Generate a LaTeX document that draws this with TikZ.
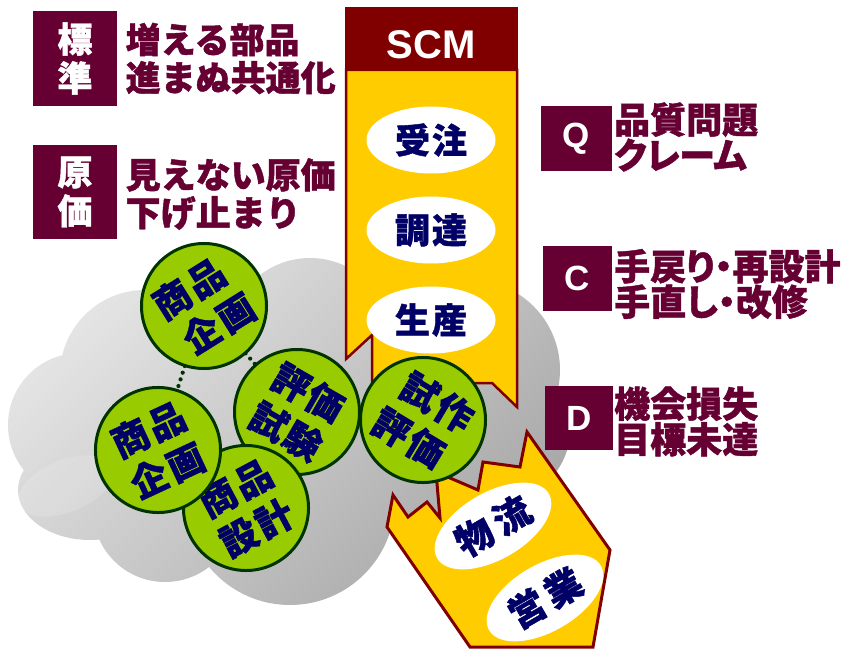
\documentclass[tikz,border=0pt]{standalone}
\usepackage{fontspec}
\usetikzlibrary{shapes.geometric}
\newfontfamily\jp{Noto Sans CJK JP}[BoldFeatures={FakeBold=1.2}]
\newfontfamily\jpp{Noto Sans CJK JP}[RawFeature=+palt,BoldFeatures={FakeBold=1.2}]
\newfontfamily\lat{Liberation Sans}
\definecolor{boxc}{HTML}{660033}
\definecolor{scmred}{HTML}{800000}
\definecolor{ylw}{HTML}{FFCC00}
\definecolor{grn}{HTML}{99CC00}
\definecolor{dgrn}{HTML}{003300}
\definecolor{navy}{HTML}{000066}
\definecolor{cloudA}{HTML}{E4E4E4}
\definecolor{cloudB}{HTML}{A8A8A8}
\newcommand\pair[3]{\makebox[#1]{#2}\makebox[#1]{#3}}
\begin{document}
\begin{tikzpicture}[x=1pt,y=-1pt,
  lbox/.style={fill=boxc,text=white,inner sep=0pt,align=center},
  ljp/.style={font=\jp\bfseries\fontsize{35}{39}\selectfont},
  lat/.style={font=\lat\bfseries\fontsize{35}{35}\selectfont},
  ltxt/.style={text=boxc,inner sep=0pt,align=left,font=\jp\bfseries\fontsize{35}{38}\selectfont},
  rtxt/.style={text=boxc,inner sep=0pt,align=left,font=\jpp\bfseries\fontsize{36}{35.5}\selectfont},
  wel/.style={ellipse,fill=white,minimum width=129pt,minimum height=67pt,inner sep=0pt,text=navy,font=\jp\bfseries\fontsize{35}{35}\selectfont},
  gc/.style={circle,fill=grn,draw=dgrn,line width=3pt,minimum size=125pt,inner sep=0pt,text=navy,align=center,font=\jp\bfseries\fontsize{37}{45}\selectfont},
  dots/.style={draw=dgrn,line width=4.2pt,line cap=round,dash pattern=on 0pt off 7pt},
  bannerst/.style={fill=ylw,draw=scmred,line width=2.5pt,line join=miter},
  arrowst/.style={fill=ylw,draw=scmred,line width=3pt,line join=miter}
]
\useasboundingbox (0,0) rectangle (847,650);
\clip (0,0) rectangle (847,650);
\fill[white] (0,0) rectangle (847,650);
% cloud
\shade[top color=cloudA,bottom color=cloudB,shading angle=45]
  (80,425) circle (72) (145,375) circle (85) (310,340) circle (82)
  (470,370) circle (90) (500,430) circle (70) (290,500) circle (105)
  (90,490) ellipse (72 and 50) (165,510) circle (72) (400,440) circle (90)
  (280,420) ellipse (220 and 120);
\fill[white,opacity=0.15,rotate around={22:(66,486)}] (66,486) ellipse (50 and 26);
% left labels
\node[lbox,ljp,minimum width=84pt,minimum height=95pt] (b1) at (75,58.5) {標\\準};
\node[lbox,ljp,minimum width=84pt,minimum height=94pt] (b2) at (75,192) {原\\価};
\node[ltxt,anchor=west] (t1) at (125.5,58.5) {増える部品\\進まぬ共通化};
\node[ltxt,anchor=west] (t2) at (125.5,194) {見えない原価\\下げ止まり};
% right labels
\node[lbox,lat,minimum width=71pt,minimum height=65pt] (q) at (576.5,138.5) {Q};
\node[lbox,lat,minimum width=69pt,minimum height=65pt] (c) at (577.5,278.5) {C};
\node[lbox,lat,minimum width=68pt,minimum height=64pt] (d) at (579,418) {D};
\node[rtxt,anchor=west] (tq) at (614,137) {品質問題\\クレーム};
\node[rtxt,anchor=west] (tc) at (614,284) {手戻り・再設計\\手直し・改修};
\node[rtxt,anchor=west] (td) at (614,421.5) {機会損失\\目標未達};
% circles
\coordinate (pT) at (204,306);
\coordinate (pL) at (158,450);
\coordinate (pH) at (297,412);
\coordinate (pS) at (246,508);
\coordinate (pK) at (423,420);
\draw[dots] (pT) -- (pL);
\draw[dots] (pT) -- (pH);
\node[gc,rotate=-30] (cH) at (pH) {\pair{39pt}{評}{価}\\\pair{39pt}{試}{験}};
\node[gc,rotate=28] (cS) at (pS) {\pair{40pt}{商}{品}\\\pair{40pt}{設}{計}};
\node[gc,rotate=25] (cL) at (pL) {\pair{40pt}{商}{品}\\\pair{40pt}{企}{画}};
\node[gc,rotate=32] (cT) at (pT) {\pair{40pt}{商}{品}\hspace*{7pt}\\\hspace*{7pt}\pair{40pt}{企}{画}};
% banner
\draw[bannerst] (346,70) -- (517,70) -- (517,407) -- (492,383) -- (372,383) -- (372,335) -- (346,359) -- cycle;
\fill[scmred] (345,7) rectangle (518.2,70);
\node[font=\lat\bfseries\fontsize{40}{40}\selectfont,text=white,inner sep=0pt] (scm) at (431,45) {SCM};
\node[wel] (e1) at (431,140) {\pair{37pt}{受}{注}};
\node[wel] (e2) at (431,230) {\pair{37pt}{調}{達}};
\node[wel] (e3) at (431,320) {\pair{37pt}{生}{産}};
% arrow
\draw[arrowst] (393,495) -- (408,517) -- (427,502) -- (440,518) -- (436,472) -- (478,490) -- (483,462) -- (520,467) -- (527,432) -- (610,550) -- (593,647) -- (470,647) -- (387,527) -- cycle;
\node[wel,rotate=30,font=\jp\bfseries\fontsize{37}{37}\selectfont] (e4) at (493,526) {\pair{43pt}{物}{流}};
\node[wel,rotate=30,font=\jp\bfseries\fontsize{37}{37}\selectfont] (e5) at (545,598) {\pair{42pt}{営}{業}};
\node[gc,rotate=-31] (cK) at (pK) {\hspace*{6pt}\pair{40pt}{試}{作}\\\pair{40pt}{評}{価}\hspace*{6pt}};
\end{tikzpicture}
\end{document}
